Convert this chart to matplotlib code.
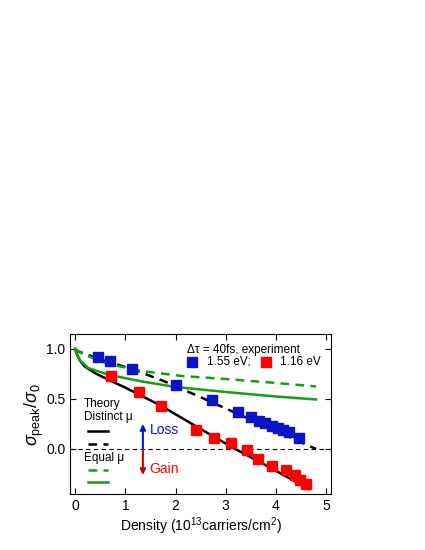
#!/usr/bin/env python3
"""Peak conductivity vs carrier density: experiment and theory."""
import matplotlib
matplotlib.use("Agg")
import matplotlib.pyplot as plt

plt.rcParams["font.family"] = ["Liberation Sans", "DejaVu Sans"]
plt.rcParams["mathtext.fontset"] = "custom"
plt.rcParams["mathtext.rm"] = "Liberation Sans"
plt.rcParams["mathtext.it"] = "Liberation Sans:italic"

# ── Data ──
blue_x = [0.46, 0.70, 1.13, 2.00, 2.72, 3.24, 3.50, 3.66, 3.79, 3.92, 4.04, 4.14, 4.26, 4.46]
blue_y = [0.915, 0.88, 0.80, 0.635, 0.486, 0.37, 0.316, 0.283, 0.256, 0.233, 0.21, 0.19, 0.166, 0.11]

red_x = [0.72, 1.27, 1.71, 2.41, 2.77, 3.10, 3.43, 3.64, 3.92, 4.21, 4.38, 4.49, 4.61]
red_y = [0.726, 0.566, 0.433, 0.193, 0.11, 0.06, -0.014, -0.10, -0.167, -0.207, -0.26, -0.31, -0.347]

# theory, distinct mu
ds_x = [0, 0.05, 0.1, 0.19, 0.39, 0.66, 0.99, 1.72, 2.5, 3.12, 3.9, 4.66]
ds_y = [1.0, 0.93, 0.88, 0.826, 0.76, 0.693, 0.616, 0.43, 0.20, 0.02, -0.19, -0.40]
dd_x = [0, 0.06, 0.52, 1.19, 1.86, 2.49, 3.2, 4.0, 4.8]
dd_y = [1.0, 0.976, 0.893, 0.79, 0.66, 0.52, 0.36, 0.18, 0.0]

# theory, equal mu
ed_x = [0, 0.12, 0.3, 0.66, 1.32, 2.12, 3.0, 4.0, 4.8]
ed_y = [1.0, 0.96, 0.92, 0.85, 0.78, 0.73, 0.70, 0.66, 0.625]
es_x = [0, 0.03, 0.09, 0.26, 0.66, 1.32, 2.0, 3.0, 4.0, 4.8]
es_y = [1.0, 0.95, 0.89, 0.81, 0.743, 0.676, 0.62, 0.57, 0.525, 0.495]

C_BLUE = "#0a14c8"
C_RED = "#ff0000"
C_GREEN = "#14a014"
DASH = (0, (3.5, 2.5))

fig = plt.figure(figsize=(4.25, 5.5), dpi=100)
ax = fig.add_axes([0.165, 0.1018, 0.614, 0.291])

ax.axhline(0, color="black", lw=0.8, ls=(0, (4, 3)), zorder=1)

ax.plot(ds_x, ds_y, color="black", lw=1.8, zorder=2)
ax.plot(dd_x, dd_y, color="black", lw=1.8, ls=DASH, zorder=2)
ax.plot(ed_x, ed_y, color=C_GREEN, lw=1.8, ls=DASH, zorder=2)
ax.plot(es_x, es_y, color=C_GREEN, lw=1.8, zorder=2)

ax.plot(blue_x, blue_y, "s", color=C_BLUE, ms=6.5, mec=C_BLUE, zorder=3)
ax.plot(red_x, red_y, "s", color=C_RED, ms=6.5, mec=C_RED, zorder=3)

ax.set_xlim(-0.1, 5.1)
ax.set_ylim(-0.45, 1.15)
ax.set_xticks([0, 1, 2, 3, 4, 5])
ax.set_yticks([0.0, 0.5, 1.0])
ax.set_yticklabels(["0.0", "0.5", "1.0"])
ax.tick_params(direction="in", top=True, right=True, length=4, width=0.8,
               labelsize=10)
for s in ax.spines.values():
    s.set_linewidth(0.8)

ax.set_xlabel("Density (10$^{13}$carriers/cm$^2$)", fontsize=10, labelpad=2)
ax.set_ylabel(r"$\sigma_{\mathrm{peak}}/\sigma_0$", fontsize=13, labelpad=0)

# ── Legend drawn by hand ──
ax.text(0.18, 0.45, "Theory", fontsize=8.5, va="center")
ax.text(0.18, 0.32, "Distinct μ", fontsize=8.5, va="center")
ax.plot([0.25, 0.65], [0.18, 0.18], color="black", lw=1.8)
ax.plot([0.25, 0.65], [0.05, 0.05], color="black", lw=1.8, ls=DASH)
ax.text(0.18, -0.09, "Equal μ", fontsize=8.5, va="center")
ax.plot([0.25, 0.65], [-0.21, -0.21], color=C_GREEN, lw=1.8, ls=DASH)
ax.plot([0.25, 0.65], [-0.33, -0.33], color=C_GREEN, lw=1.8)

ax.annotate("", xy=(1.35, 0.25), xytext=(1.35, 0.0),
            arrowprops=dict(arrowstyle="-|>", color=C_BLUE, lw=1.5,
                            mutation_scale=8, shrinkA=0, shrinkB=0))
ax.annotate("", xy=(1.35, -0.26), xytext=(1.35, -0.01),
            arrowprops=dict(arrowstyle="-|>", color="#cc0000", lw=1.5,
                            mutation_scale=8, shrinkA=0, shrinkB=0))
ax.text(1.48, 0.19, "Loss", fontsize=10, color=C_BLUE, va="center")
ax.text(1.48, -0.20, "Gain", fontsize=10, color=C_RED, va="center")

ax.text(2.22, 0.99, "Δτ = 40fs, experiment", fontsize=8.5, va="center")
ax.plot([2.33], [0.87], "s", color=C_BLUE, ms=6.5)
ax.text(2.62, 0.87, "1.55 eV;", fontsize=8.5, va="center")
ax.plot([3.80], [0.87], "s", color=C_RED, ms=6.5)
ax.text(4.08, 0.87, "1.16 eV", fontsize=8.5, va="center")

fig.savefig("out.png", dpi=100, facecolor="white")
